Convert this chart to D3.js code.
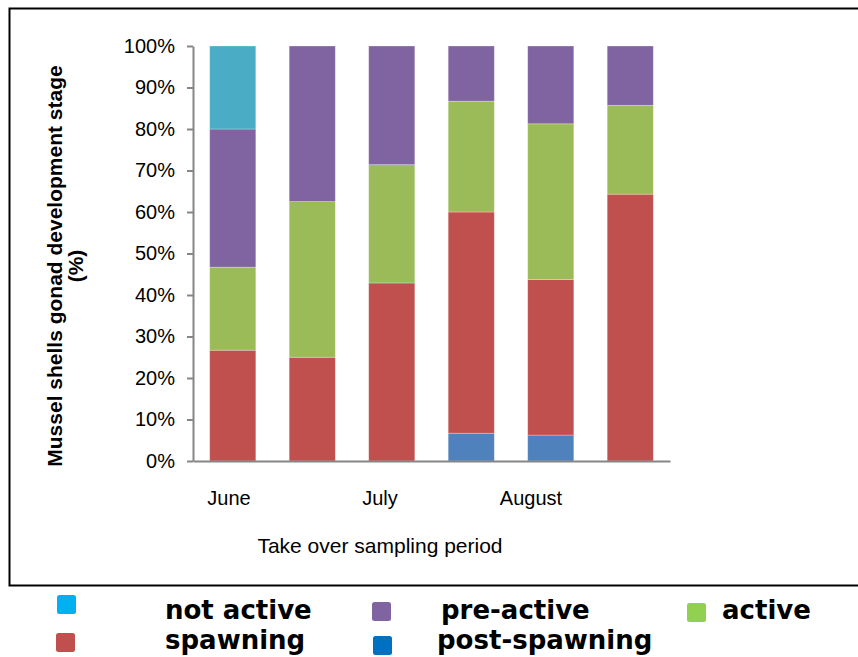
<!DOCTYPE html>
<html><head><meta charset="utf-8">
<script src="https://cdn.jsdelivr.net/npm/d3@7"></script>
<style>
html,body{margin:0;padding:0;background:#fff;}
svg{display:block;}
</style></head>
<body>
<svg id="chart" width="858" height="657"></svg>
<script>
const categories = ["June", "", "July", "", "August", ""];
const monthLabels = ["June", "July", "August"];
const seriesNames = ["post-spawning", "spawning", "active", "pre-active", "not active"];
const postSpawning = [0, 0, 0, 6.7, 6.25, 0];
const spawning     = [26.7, 25, 42.9, 53.3, 37.5, 64.3];
const active       = [20.0, 37.5, 28.5, 26.7, 37.5, 21.4];
const preActive    = [33.3, 37.5, 28.6, 13.3, 18.75, 14.3];
const notActive    = [20.0, 0, 0, 0, 0, 0];
const yTicks = [0, 10, 20, 30, 40, 50, 60, 70, 80, 90, 100];
const barColors = {"post-spawning":"#4F81BD","spawning":"#C0504D","active":"#9BBB59","pre-active":"#8064A2","not active":"#4BACC6"};
const legendColors = {"not active":"#00B0F0","pre-active":"#8064A2","active":"#92D050","spawning":"#C0504D","post-spawning":"#0070C0"};

(function(){
const svg = d3.select("#chart");
svg.append("rect").attr("x",9.5).attr("y",8.5).attr("width",870).attr("height",577)
  .attr("fill","none").attr("stroke","#000").attr("stroke-width",2);

const pL = 193, pR = 670, pT = 46, pB = 461;
const x = d3.scaleBand().domain(d3.range(categories.length)).range([pL, pR]).paddingInner(0.42).paddingOuter(0.21);
const y = d3.scaleLinear().domain([0,100]).range([pB, pT]);

const rows = categories.map((c,i)=>({
  "post-spawning": postSpawning[i], "spawning": spawning[i], "active": active[i],
  "pre-active": preActive[i], "not active": notActive[i]
}));
const stacked = d3.stack().keys(seriesNames)(rows);

svg.append("g").selectAll("g").data(stacked).join("g")
  .attr("fill", d=>barColors[d.key])
  .selectAll("rect").data(d=>d.map((v,i)=>({v,i})).filter(d=>d.v[1]-d.v[0]>0)).join("rect")
  .attr("x", d=>x(d.i))
  .attr("width", x.bandwidth())
  .attr("y", d=>y(d.v[1]))
  .attr("height", d=>Math.max(0, y(d.v[0]) - y(d.v[1])))
  .attr("stroke","rgba(255,255,255,0.35)").attr("stroke-width",0.8);

const yAxis = svg.append("g").attr("transform",`translate(${pL},0)`)
  .call(d3.axisLeft(y).tickValues(yTicks).tickFormat(d=>d+"%").tickSize(6).tickSizeOuter(0).tickPadding(12));
yAxis.select(".domain").attr("stroke","#868686").attr("stroke-width",2);
yAxis.selectAll(".tick line").attr("stroke","#868686").attr("stroke-width",2);
yAxis.selectAll(".tick text").attr("font-family","Liberation Sans, Arial, sans-serif")
  .attr("font-size",20).attr("fill","#000");

const xAxis = svg.append("g").attr("transform",`translate(0,${pB})`)
  .call(d3.axisBottom(x).tickFormat("").tickSize(0).tickSizeOuter(0));
xAxis.select(".domain").attr("stroke","#868686").attr("stroke-width",2);

// month labels (spread evenly under the category axis, as in the original)
const xm = d3.scalePoint().domain(monthLabels).range([229, 531]);
svg.append("g").selectAll("text").data(monthLabels).join("text")
  .attr("x", d=>xm(d)).attr("y", pB + 44).attr("text-anchor","middle")
  .attr("font-family","Liberation Sans, Arial, sans-serif").attr("font-size",20).attr("fill","#000")
  .text(d=>d);

svg.append("text").attr("x",380).attr("y",553).attr("text-anchor","middle")
  .attr("font-family","Liberation Sans, Arial, sans-serif").attr("font-size",21).attr("fill","#000")
  .text("Take over sampling period");

const yt = svg.append("text").attr("transform","translate(62,266) rotate(-90)")
  .attr("text-anchor","middle").attr("font-family","Liberation Sans, Arial, sans-serif")
  .attr("font-size",21).attr("font-weight","bold").attr("fill","#000");
yt.append("tspan").attr("x",0).attr("y",0).text("Mussel shells gonad development stage");
yt.append("tspan").attr("x",0).attr("y",21).text("(%)");

const legendItems = [
  {name:"not active", sx:57, sy:595, tx:165, ty:619},
  {name:"pre-active", sx:372, sy:602, tx:441, ty:619},
  {name:"active", sx:687, sy:603, tx:722, ty:619},
  {name:"spawning", sx:56, sy:633, tx:165, ty:649},
  {name:"post-spawning", sx:373, sy:636, tx:437, ty:649}
];
const lg = svg.append("g");
lg.selectAll("rect").data(legendItems).join("rect")
  .attr("x",d=>d.sx).attr("y",d=>d.sy).attr("width",19).attr("height",19).attr("rx",2.5)
  .attr("fill",d=>legendColors[d.name]);
lg.selectAll("text").data(legendItems).join("text")
  .attr("x",d=>d.tx).attr("y",d=>d.ty)
  .attr("font-family","DejaVu Sans, Verdana, sans-serif").attr("font-weight","bold").attr("font-size",26)
  .attr("fill","#000").text(d=>d.name);
})();
</script>
</body></html>
